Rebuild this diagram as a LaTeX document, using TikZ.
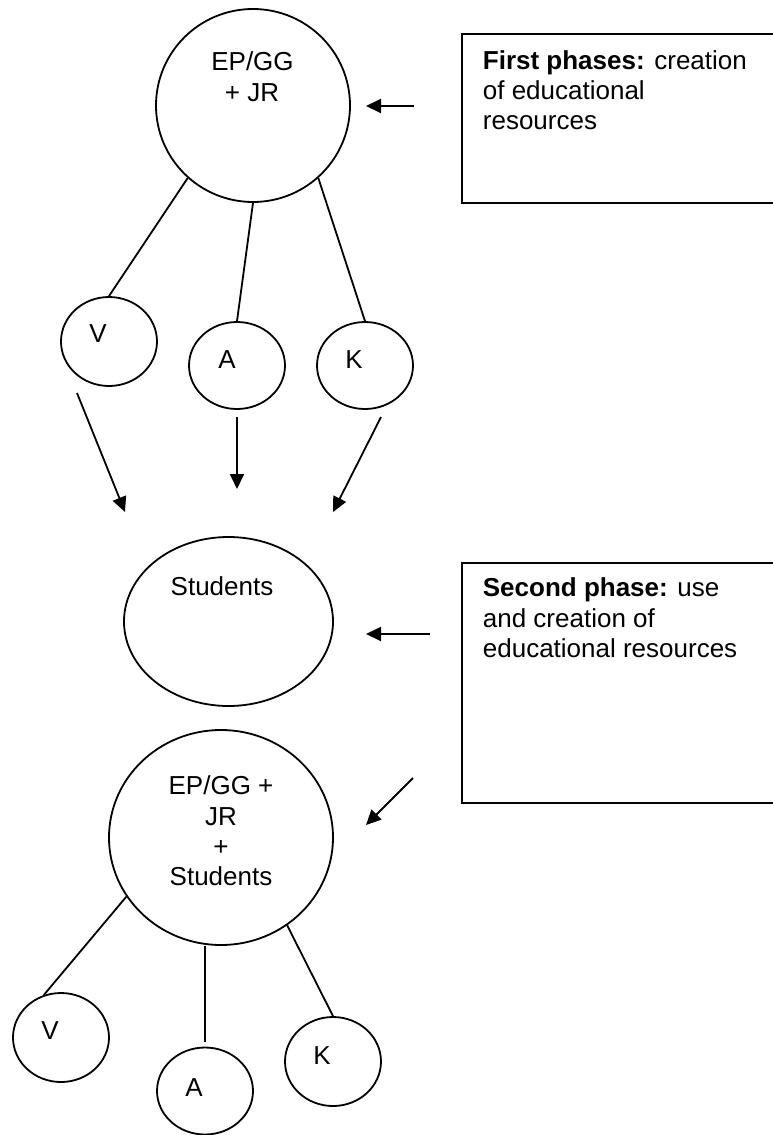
\documentclass[tikz,border=0pt]{standalone}
\usepackage{fontspec}
\setmainfont{Liberation Sans}
\usetikzlibrary{arrows.meta,shapes.geometric}
\begin{document}
\begin{tikzpicture}[x=1pt,y=-1pt,
  ln/.style={line width=1.8pt},
  bub/.style={draw,ellipse,line width=1.8pt,inner sep=0pt},
  boxn/.style={draw,rectangle,line width=1.8pt,inner sep=0pt,anchor=north west},
  txt/.style={anchor=base,inner sep=0pt,font=\fontsize{26}{30}\selectfont},
  ltxt/.style={anchor=base west,inner sep=0pt,font=\fontsize{26}{30}\selectfont},
  arr/.style={line width=1.8pt,-{Triangle[length=15pt,width=14pt]}}]
\useasboundingbox (0,0) rectangle (773,1135);

% ---------- first phase ----------
\node[bub,minimum width=194pt,minimum height=193pt] (top) at (253,105.5) {};
\node[txt] (toptA) at (252.5,70) {EP/GG};
\node[txt] (toptB) at (252,101) {+ JR};

\node[bub,minimum width=96pt,minimum height=89pt] (V) at (109,341.5) {};
\node[bub,minimum width=96pt,minimum height=87pt] (A) at (237,365.5) {};
\node[bub,minimum width=96pt,minimum height=87pt] (K) at (365,365.5) {};
\node[txt] (Vt) at (98,342) {V};
\node[txt] (At) at (227,368) {A};
\node[txt] (Kt) at (354,368) {K};

\draw[ln] (top.228) -- (V.north);
\draw[ln] (top.south) -- (A.north);
\draw[ln] (top.-48.6) -- (K.north);

\node[boxn,minimum width=314pt,minimum height=169pt] (box1) at (461,33) {};
\node[ltxt] (b1a) at (482.7,69) {\textbf{First phases:} creation};
\node[ltxt] (b1b) at (482.7,99) {of educational};
\node[ltxt] (b1c) at (482.7,129) {resources};

\coordinate (a1s) at (414,106);
\coordinate (a1e) at (366,106);
\draw[arr] (a1s) -- (a1e);

% arrows to students
\coordinate (vs) at (77,393);   \coordinate (ve) at (125,512);
\coordinate (as) at (237,417);  \coordinate (ae) at (237,489);
\coordinate (ks) at (381,417);  \coordinate (ke) at (333,512);
\draw[arr] (vs) -- (ve);
\draw[arr] (as) -- (ae);
\draw[arr] (ks) -- (ke);

% ---------- second phase ----------
\node[bub,minimum width=209pt,minimum height=169pt] (stud) at (228.5,621.5) {};
\node[txt] (studt) at (222,595) {Students};

\node[boxn,minimum width=314pt,minimum height=240pt] (box2) at (461,562) {};
\node[ltxt] (b2a) at (482.7,596) {\textbf{Second phase:} use};
\node[ltxt] (b2b) at (482.7,627) {and creation of};
\node[ltxt] (b2c) at (482.7,657) {educational resources};

\coordinate (a2s) at (430,634);
\coordinate (a2e) at (366,634);
\draw[arr] (a2s) -- (a2e);

\coordinate (a3s) at (413,778);
\coordinate (a3e) at (366,825);
\draw[arr] (a3s) -- (a3e);

\node[bub,minimum width=224pt,minimum height=215pt] (bot) at (221,837.5) {};
\node[txt] (bta) at (221,794) {EP/GG +};
\node[txt] (btb) at (221,825) {JR};
\node[txt] (btc) at (221,855) {+};
\node[txt] (btd) at (221,885) {Students};

\node[bub,minimum width=96pt,minimum height=89pt] (V2) at (61,1037.5) {};
\node[bub,minimum width=96pt,minimum height=87pt] (A2) at (205,1091) {};
\node[bub,minimum width=96pt,minimum height=89pt] (K2) at (333,1061.5) {};
\node[txt] (V2t) at (50,1039) {V};
\node[txt] (A2t) at (194,1096) {A};
\node[txt] (K2t) at (322,1064) {K};

\draw[ln] (bot.212.5) -- (V2.112);
\draw[ln] (A2.north |- bot.south) -- ([yshift=5pt]A2.north);
\draw[ln] (bot.-53) -- (K2.north);
\end{tikzpicture}
\end{document}
